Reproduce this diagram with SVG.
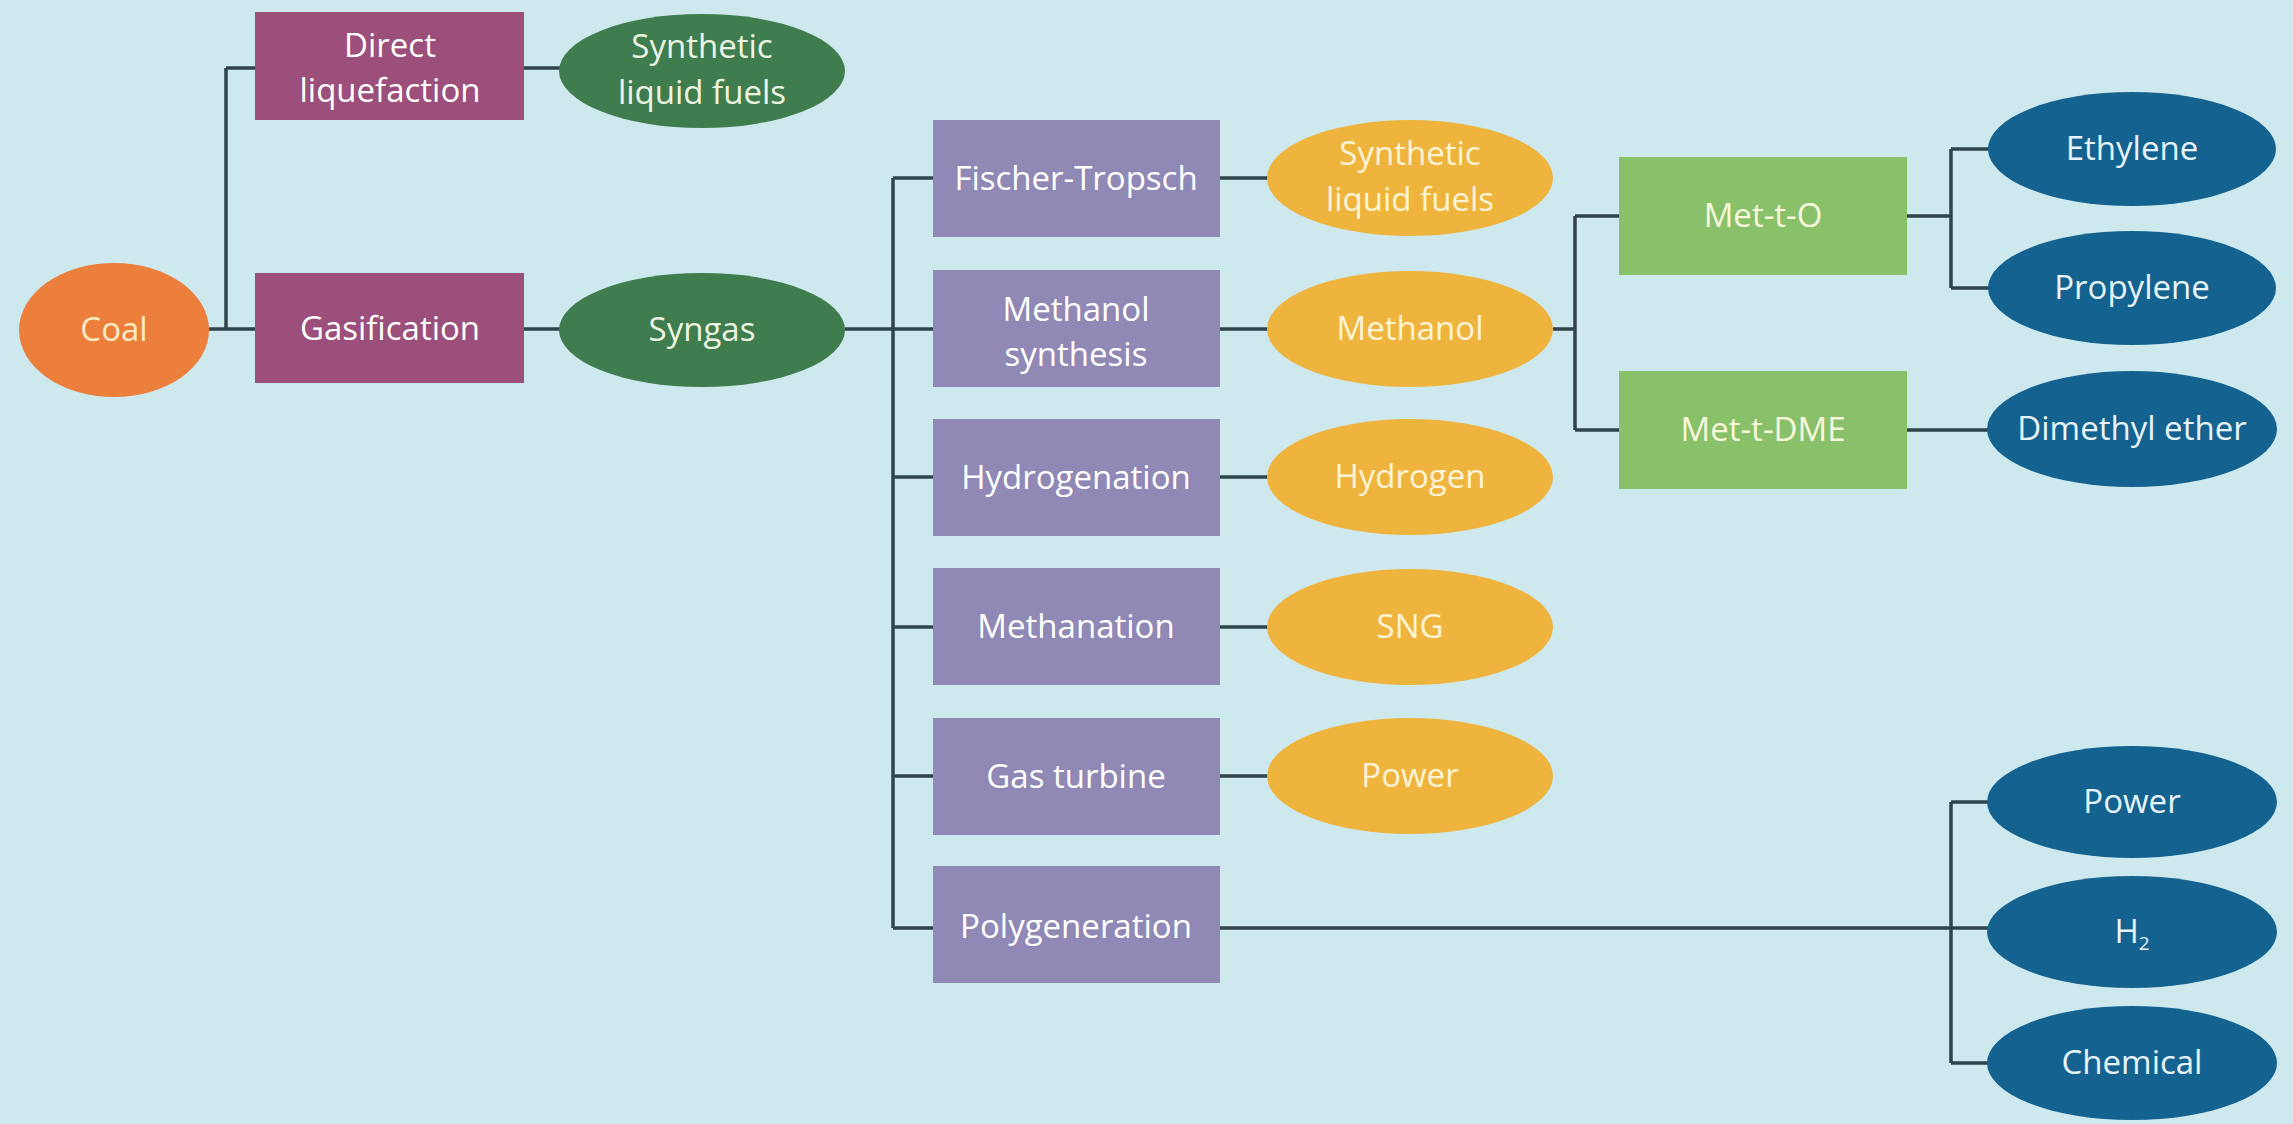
<svg xmlns="http://www.w3.org/2000/svg" width="2293" height="1124" viewBox="0 0 2293 1124">
  <style>
    text { font-family: "Open Sans", "Liberation Sans", sans-serif; font-size: 33px; text-anchor: middle; }
    .link { fill: none; stroke: #2f434a; stroke-width: 3.5; }
    .feed { fill: #ec7f3c; }
    .route { fill: #9c4f7b; }
    .gas { fill: #3f7d4f; }
    .proc { fill: #9089b5; }
    .prod { fill: #efb43e; }
    .conv { fill: #89c06a; }
    .chem { fill: #14628f; }
    .t-feed { fill: #fdebc4; }
    .t-white { fill: #ffffff; }
    .t-gas { fill: #eef4e2; }
    .t-prod { fill: #fdf4d6; }
    .t-conv { fill: #f7f8dc; }
    .t-chem { fill: #e8f3fa; }
  </style>

  <rect x="0" y="0" width="2293" height="1124" fill="#cde9ee"/>

  <!-- connectors -->
  <g id="connectors">
    <!-- coal to the two routes -->
    <path class="link" d="M209 329 H255 M226 68 V329 M226 68 H255"/>
    <path class="link" d="M524 68 H560"/>
    <path class="link" d="M524 329 H560"/>
    <!-- syngas trunk -->
    <path class="link" d="M845 329 H893 M893 178 V928"/>
    <path class="link" d="M893 178 H933 M893 329 H933 M893 477 H933 M893 627 H933 M893 776 H933 M893 928 H933"/>
    <!-- process to product -->
    <path class="link" d="M1220 178 H1268 M1220 329 H1268 M1220 477 H1268 M1220 627 H1268 M1220 776 H1268"/>
    <!-- methanol branch -->
    <path class="link" d="M1553 329 H1575 M1575 216 V430 M1575 216 H1619 M1575 430 H1619"/>
    <path class="link" d="M1907 216 H1951 M1951 149 V288 M1951 149 H1990 M1951 288 H1990"/>
    <path class="link" d="M1907 430 H1990"/>
    <!-- polygeneration branch -->
    <path class="link" d="M1220 928 H1990 M1951 802 V1063 M1951 802 H1990 M1951 1063 H1990"/>
  </g>

  <g id="coal">
    <ellipse class="feed" cx="114" cy="330" rx="95" ry="67"/>
    <text class="t-feed" x="114" y="341">Coal</text>
  </g>

  <g id="direct-liquefaction">
    <rect class="route" x="255" y="12" width="269" height="108"/>
    <text class="t-white" x="390" y="57">Direct</text>
    <text class="t-white" x="390" y="102">liquefaction</text>
  </g>
  <g id="gasification">
    <rect class="route" x="255" y="273" width="269" height="110"/>
    <text class="t-white" x="390" y="340">Gasification</text>
  </g>

  <g id="synthetic-liquid-fuels-direct">
    <ellipse class="gas" cx="702" cy="71" rx="143" ry="57"/>
    <text class="t-gas" x="702" y="58">Synthetic</text>
    <text class="t-gas" x="702" y="104">liquid fuels</text>
  </g>
  <g id="syngas">
    <ellipse class="gas" cx="702" cy="330" rx="143" ry="57"/>
    <text class="t-gas" x="702" y="341">Syngas</text>
  </g>

  <g id="fischer-tropsch">
    <rect class="proc" x="933" y="120" width="287" height="117"/>
    <text class="t-white" x="1076" y="190">Fischer-Tropsch</text>
  </g>
  <g id="methanol-synthesis">
    <rect class="proc" x="933" y="270" width="287" height="117"/>
    <text class="t-white" x="1076" y="321">Methanol</text>
    <text class="t-white" x="1076" y="366">synthesis</text>
  </g>
  <g id="hydrogenation">
    <rect class="proc" x="933" y="419" width="287" height="117"/>
    <text class="t-white" x="1076" y="489">Hydrogenation</text>
  </g>
  <g id="methanation">
    <rect class="proc" x="933" y="568" width="287" height="117"/>
    <text class="t-white" x="1076" y="638">Methanation</text>
  </g>
  <g id="gas-turbine">
    <rect class="proc" x="933" y="718" width="287" height="117"/>
    <text class="t-white" x="1076" y="788">Gas turbine</text>
  </g>
  <g id="polygeneration">
    <rect class="proc" x="933" y="866" width="287" height="117"/>
    <text class="t-white" x="1076" y="938">Polygeneration</text>
  </g>

  <g id="synthetic-liquid-fuels-ft">
    <ellipse class="prod" cx="1410" cy="178" rx="143" ry="58"/>
    <text class="t-prod" x="1410" y="165">Synthetic</text>
    <text class="t-prod" x="1410" y="211">liquid fuels</text>
  </g>
  <g id="methanol">
    <ellipse class="prod" cx="1410" cy="329" rx="143" ry="58"/>
    <text class="t-prod" x="1410" y="340">Methanol</text>
  </g>
  <g id="hydrogen">
    <ellipse class="prod" cx="1410" cy="477" rx="143" ry="58"/>
    <text class="t-prod" x="1410" y="488">Hydrogen</text>
  </g>
  <g id="sng">
    <ellipse class="prod" cx="1410" cy="627" rx="143" ry="58"/>
    <text class="t-prod" x="1410" y="638">SNG</text>
  </g>
  <g id="power-turbine">
    <ellipse class="prod" cx="1410" cy="776" rx="143" ry="58"/>
    <text class="t-prod" x="1410" y="787">Power</text>
  </g>

  <g id="met-t-o">
    <rect class="conv" x="1619" y="157" width="288" height="118"/>
    <text class="t-conv" x="1763" y="227">Met-t-O</text>
  </g>
  <g id="met-t-dme">
    <rect class="conv" x="1619" y="371" width="288" height="118"/>
    <text class="t-conv" x="1763" y="441">Met-t-DME</text>
  </g>

  <g id="ethylene">
    <ellipse class="chem" cx="2132" cy="149" rx="144" ry="57"/>
    <text class="t-chem" x="2132" y="160">Ethylene</text>
  </g>
  <g id="propylene">
    <ellipse class="chem" cx="2132" cy="288" rx="144" ry="57"/>
    <text class="t-chem" x="2132" y="299">Propylene</text>
  </g>
  <g id="dimethyl-ether">
    <ellipse class="chem" cx="2132" cy="429" rx="145" ry="58"/>
    <text class="t-chem" x="2132" y="440">Dimethyl ether</text>
  </g>
  <g id="power-poly">
    <ellipse class="chem" cx="2132" cy="802" rx="145" ry="56"/>
    <text class="t-chem" x="2132" y="813">Power</text>
  </g>
  <g id="h2">
    <ellipse class="chem" cx="2132" cy="932" rx="145" ry="56"/>
    <text class="t-chem" x="2132" y="943">H<tspan font-size="19" dy="7">2</tspan></text>
  </g>
  <g id="chemical">
    <ellipse class="chem" cx="2132" cy="1063" rx="145" ry="57"/>
    <text class="t-chem" x="2132" y="1074">Chemical</text>
  </g>
</svg>
